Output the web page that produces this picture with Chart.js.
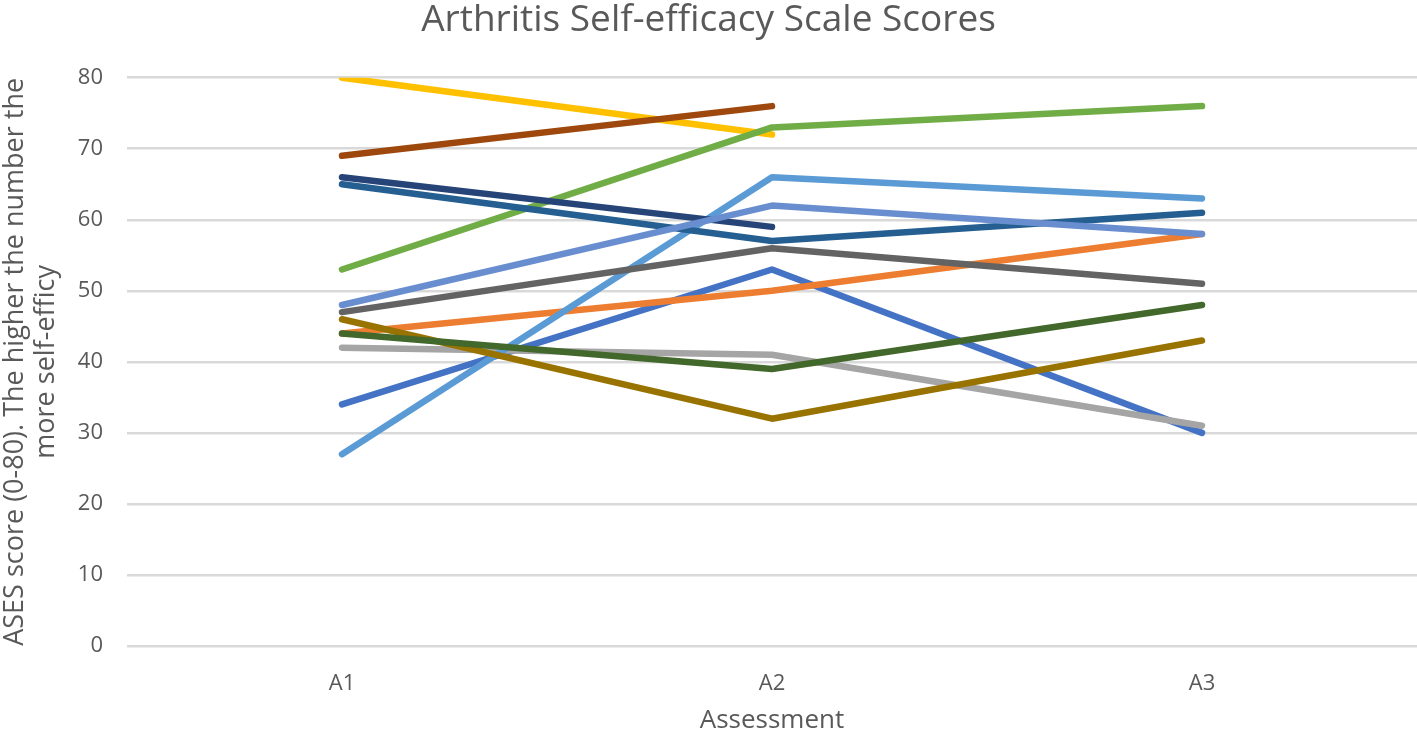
<!DOCTYPE html>
<html><head><meta charset="utf-8">
<script src="https://cdn.jsdelivr.net/npm/chart.js@4"></script>
<style>html,body{margin:0;padding:0;background:#fff}#wrap{width:1417px;height:735px}</style>
</head><body><div id="wrap"><canvas id="c" width="1417" height="735"></canvas></div>
<script>
const categories = ["A1", "A2", "A3"];
const s1 = [34, 53, 30];
const s2 = [44, 50, 58];
const s3 = [42, 41, 31];
const s4 = [80, 72, null];
const s5 = [27, 66, 63];
const s6 = [53, 73, 76];
const s7 = [66, 59, null];
const s8 = [69, 76, null];
const s9 = [47, 56, 51];
const s10 = [46, 32, 43];
const s11 = [65, 57, 61];
const s12 = [44, 39, 48];
const s13 = [48, 62, 58];
const seriesValues = [s1, s2, s3, s4, s5, s6, s7, s8, s9, s10, s11, s12, s13];
const seriesNames = ["Series1","Series2","Series3","Series4","Series5","Series6","Series7","Series8","Series9","Series10","Series11","Series12","Series13"];
const colors = ["#4472C4","#ED7D31","#A5A5A5","#FFC000","#5B9BD5","#70AD47","#264478","#9E480E","#636363","#997300","#255E91","#43682B","#698ED0"];
const yTicks = [0, 10, 20, 30, 40, 50, 60, 70, 80];
const FONT = "'Open Sans'";

const datasets = seriesValues.map((v, i) => ({
  label: seriesNames[i],
  data: v,
  borderColor: colors[i],
  backgroundColor: colors[i],
  borderWidth: 6.5,
  borderCapStyle: 'round',
  borderJoinStyle: 'round',
  pointRadius: 0,
  tension: 0,
  spanGaps: false,
  order: seriesValues.length - i
}));

new Chart(document.getElementById('c'), {
  type: 'line',
  data: { labels: categories, datasets },
  options: {
    responsive: false,
    animation: false,
    layout: { padding: { left: 0, right: 0, top: 0, bottom: 0 } },
    plugins: {
      legend: { display: false },
      tooltip: { enabled: false },
      title: {
        display: true,
        text: "Arthritis Self-efficacy Scale Scores",
        color: "#595959",
        font: { family: FONT, size: 37, weight: 'normal', lineHeight: 1.1 },
        padding: { top: 0, bottom: 37 }
      }
    },
    scales: {
      x: {
        offset: true,
        grid: { display: false, offset: true },
        border: { display: false },
        afterFit: (axis) => { axis.height = 89; },
        ticks: { color: "#595959", font: { family: FONT, size: 22 }, padding: 17 },
        title: { display: true, text: "Assessment", color: "#595959", font: { family: FONT, size: 26, lineHeight: 1.1 }, padding: { top: 0, bottom: 0 } }
      },
      y: {
        min: 0, max: 80,
        afterBuildTicks: (axis) => { axis.ticks = yTicks.map(v => ({ value: v })); },
        afterFit: (axis) => { axis.width = 127; },
        grid: { color: "#D9D9D9", lineWidth: 2.5, drawTicks: false },
        border: { display: false },
        ticks: { color: "#595959", font: { family: FONT, size: 22 }, padding: 24 },
        title: { display: true, text: ["ASES score (0-80). The higher the number the", "more self-efficy"], color: "#595959", font: { family: FONT, size: 27, lineHeight: 1.15 }, padding: { top: 0, bottom: 0 } }
      }
    }
  }
});
</script>
</body></html>
